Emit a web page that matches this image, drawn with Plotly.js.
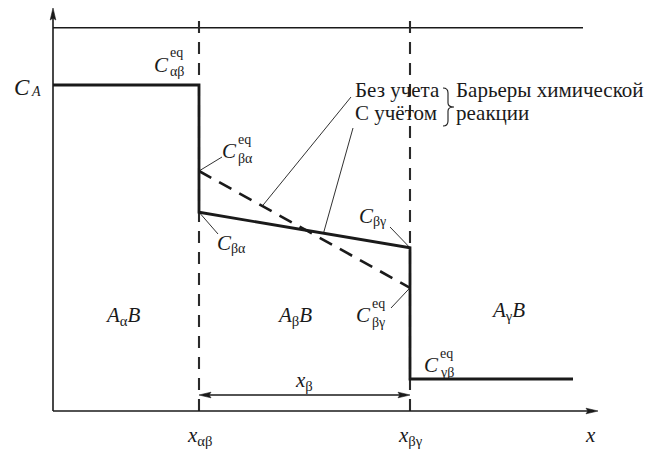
<!DOCTYPE html>
<html>
<head>
<meta charset="utf-8">
<script src="https://cdn.plot.ly/plotly-3.0.1.min.js"></script>
<style>
  body { margin: 0; background: #fff; }
  #chart { width: 666px; height: 450px; }
</style>
</head>
<body>
<div id="chart"></div>
<script>
// positions along x (arbitrary units): origin, x_ab, x_bg, end of the gamma phase
const xPhase = [0, 3.65, 8.925, 13.0];
const xTopEnd = 13.25;
const topLevel = 9.58;

// concentration of A at the interfaces
const cA = 8.15;
const cBetaAlpha = 4.97;     // with reaction barriers
const cBetaGamma = 4.08;
const cEqBetaAlpha = 6.0;    // without (equilibrium)
const cEqBetaGamma = 3.08;
const cEqGammaBeta = 0.8;

const profileX = [xPhase[0], xPhase[1], xPhase[1], xPhase[2], xPhase[2], xPhase[3]];
const profileY = [cA, cA, cBetaAlpha, cBetaGamma, cEqGammaBeta, cEqGammaBeta];
const eqX = [xPhase[1], xPhase[2]];
const eqY = [cEqBetaAlpha, cEqBetaGamma];

const INK = '#1a1a1a';
const FONT = "'Liberation Serif', serif";

// pixel -> data helpers (40 px per unit, origin at 53,411)
const X = p => (p - 53) / 40;
const Y = p => (411 - p) / 40;
const along = (xs, ys, t) => [xs[0] + t * (xs[1] - xs[0]), ys[0] + t * (ys[1] - ys[0])];

function leader(pt, lx, ly) {
  return { x: [pt[0], X(lx)], y: [pt[1], Y(ly)], mode: 'lines', line: { color: INK, width: 0.9 } };
}

var traces = [
  { x: [0, xTopEnd], y: [topLevel, topLevel], mode: 'lines', line: { color: INK, width: 1.4 } },
  { x: [xPhase[1], xPhase[1]], y: [0, 9.95], mode: 'lines', line: { color: '#2a2a2a', width: 2.1, dash: '12px,9px' } },
  { x: [xPhase[2], xPhase[2]], y: [0, 9.95], mode: 'lines', line: { color: '#2a2a2a', width: 2.1, dash: '12px,9px' } },
  { x: eqX, y: eqY, mode: 'lines', line: { color: INK, width: 2.6, dash: '14px,9px' } },
  { x: profileX, y: profileY, mode: 'lines', line: { color: INK, width: 2.8 } },
  leader([xPhase[1], cEqBetaAlpha], 222, 157),
  leader([xPhase[1], cBetaAlpha], 218, 234),
  leader(along(eqX, eqY, 0.30), 351, 97),
  leader(along([profileX[2], profileX[3]], [profileY[2], profileY[3]], 0.59), 353, 128),
  leader([xPhase[2], cBetaGamma], 390, 227),
  leader([xPhase[2], cEqBetaGamma], 391, 308)
];

function head(tx, ty, dir) {
  const L = 12 / 40, W = 2.8 / 40, N = 10 / 40;
  let p;
  if (dir === 'up') p = [[tx, ty], [tx - W, ty - L], [tx, ty - N], [tx + W, ty - L]];
  else if (dir === 'right') p = [[tx, ty], [tx - L, ty + W], [tx - N, ty], [tx - L, ty - W]];
  else p = [[tx, ty], [tx + L, ty + W], [tx + N, ty], [tx + L, ty - W]];
  return {
    type: 'path', xref: 'x', yref: 'y',
    path: 'M' + p.map(q => q[0] + ',' + q[1]).join('L') + 'Z',
    fillcolor: INK, line: { color: INK, width: 0.6 }
  };
}
function seg(x0, y0, x1, y1, w) {
  return { type: 'line', xref: 'x', yref: 'y', x0, y0, x1, y1, line: { color: INK, width: w } };
}

const xTip = X(598), yTip = Y(8), yDim = Y(395);
var shapes = [
  seg(0, 0, xTip - 0.1, 0, 1.6),
  seg(0, 0, 0, yTip - 0.1, 1.6),
  head(xTip, 0, 'right'),
  head(0, yTip, 'up'),
  seg(xPhase[1] + 0.1, yDim, xPhase[2] - 0.1, yDim, 1.4),
  head(xPhase[2], yDim, 'right'),
  head(xPhase[1], yDim, 'left'),
  {
    type: 'path', xref: 'x', yref: 'y', line: { color: INK, width: 1.1 },
    path: 'M' + X(443) + ',' + Y(88) + ' Q' + X(448) + ',' + Y(88) + ' ' + X(448) + ',' + Y(93) +
          ' L' + X(448) + ',' + Y(103) + ' Q' + X(448) + ',' + Y(107) + ' ' + X(454) + ',' + Y(107) +
          ' Q' + X(448) + ',' + Y(107) + ' ' + X(448) + ',' + Y(111) +
          ' L' + X(448) + ',' + Y(121) + ' Q' + X(448) + ',' + Y(126) + ' ' + X(443) + ',' + Y(126)
  }
];

// text placed by left edge (or centre) and baseline in pixels
function txt(text, x, base, size, anchor) {
  return {
    text: text, xref: 'x', yref: 'y', x: X(x), y: Y(base - 0.891 * size),
    xanchor: anchor || 'left', yanchor: 'top', showarrow: false,
    borderpad: 0, borderwidth: 0,
    font: { family: FONT, size: size, color: INK }
  };
}
function cLabel(L, B, sub, eq) {
  const a = [txt('<i>C</i>', L - 1, B, 21)];
  if (eq) {
    a.push(txt('eq', L + 15, B - 14, 14));
    a.push(txt(sub, L + 15, B + 5, 14));
  } else {
    a.push(txt(sub, L + 13, B + 3, 14));
  }
  return a;
}

var annotations = [].concat(
  [txt('<i>C</i>', 14, 95, 23), txt('<i>A</i>', 31, 96, 14)],
  cLabel(155, 71.5, 'αβ', true),
  cLabel(223, 158, 'βα', true),
  cLabel(218, 250, 'βα', false),
  cLabel(360, 223, 'βγ', false),
  cLabel(357, 322, 'βγ', true),
  cLabel(425, 372, 'γβ', true),
  [
    txt('Без учета', 355, 97, 21),
    txt('С учётом', 355, 120, 21),
    txt('Барьеры химической', 456, 97, 21),
    txt('реакции', 456, 120, 21),
    txt('<i>A</i><sub>α</sub><i>B</i>', 123, 322, 21, 'center'),
    txt('<i>A</i><sub>β</sub><i>B</i>', 294, 322, 21, 'center'),
    txt('<i>A</i><sub>γ</sub><i>B</i>', 508, 317, 21, 'center'),
    txt('<i>x</i><sub>β</sub>', 304, 387, 21, 'center'),
    txt('<i>x</i><sub>αβ</sub>', 200, 442, 21, 'center'),
    txt('<i>x</i><sub>βγ</sub>', 410, 442, 21, 'center'),
    txt('<i>x</i>', 590, 442, 21, 'center')
  ]
);

var layout = {
  width: 666, height: 450,
  margin: { l: 0, r: 0, t: 0, b: 0, pad: 0 },
  paper_bgcolor: '#fff', plot_bgcolor: '#fff',
  font: { family: FONT },
  showlegend: false,
  xaxis: { range: [X(0), X(666)], visible: false },
  yaxis: { range: [Y(450), Y(0)], visible: false },
  shapes: shapes,
  annotations: annotations
};

Plotly.newPlot('chart', traces, layout, { staticPlot: true, displayModeBar: false });
</script>
</body>
</html>
